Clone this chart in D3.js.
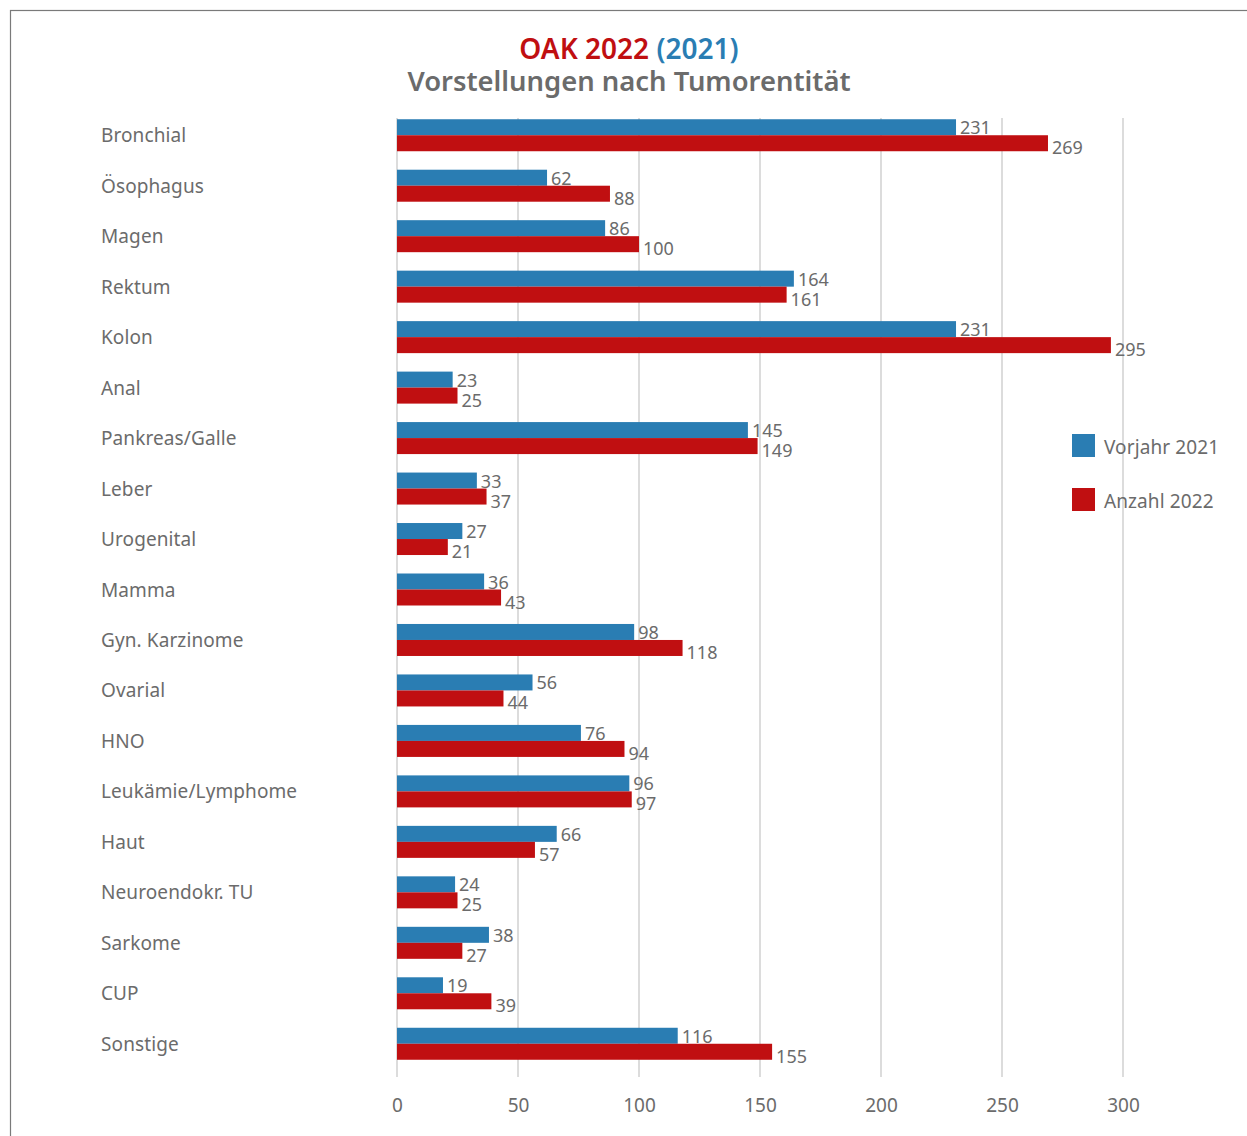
<!DOCTYPE html>
<html>
<head>
<meta charset="utf-8">
<script src="https://cdn.jsdelivr.net/npm/d3@7"></script>
<style>
  body { margin: 0; background: #fff; }
  svg text { font-family: "Noto Sans", sans-serif; }
</style>
</head>
<body>
<div id="chart"></div>
<script>
var categories = ["Bronchial", "Ösophagus", "Magen", "Rektum", "Kolon", "Anal",
    "Pankreas/Galle", "Leber", "Urogenital", "Mamma", "Gyn. Karzinome", "Ovarial",
    "HNO", "Leukämie/Lymphome", "Haut", "Neuroendokr. TU", "Sarkome", "CUP", "Sonstige"];
var vorjahr2021 = [231, 62, 86, 164, 231, 23, 145, 33, 27, 36, 98, 56, 76, 96, 66, 24, 38, 19, 116];
var anzahl2022 = [269, 88, 100, 161, 295, 25, 149, 37, 21, 43, 118, 44, 94, 97, 57, 25, 27, 39, 155];
var xTicks = [0, 50, 100, 150, 200, 250, 300];
var seriesNames = ["Vorjahr 2021", "Anzahl 2022"];

var width = 1247, height = 1136;
var blue = "#2a7db3", red = "#c00f11", grey = "#6b6b6b";

var svg = d3.select("#chart").append("svg")
    .attr("width", width)
    .attr("height", height);

// frame
svg.append("rect")
    .attr("x", 10.5).attr("y", 10.5)
    .attr("width", width).attr("height", height)
    .attr("fill", "none").attr("stroke", "#7a7a7a").attr("stroke-width", 1.2);

// title
var title = svg.append("text")
    .attr("x", 629).attr("y", 59)
    .attr("text-anchor", "middle")
    .attr("font-size", 28).attr("font-weight", 600);
title.append("tspan").attr("fill", red).text("OAK 2022 ");
title.append("tspan").attr("fill", blue).text("(2021)");

svg.append("text")
    .attr("x", 629).attr("y", 91)
    .attr("text-anchor", "middle")
    .attr("font-size", 27.4).attr("font-weight", 600)
    .attr("fill", grey)
    .text("Vorstellungen nach Tumorentität");

var x = d3.scaleLinear().domain([0, 300]).range([397, 1123]);
var y = d3.scaleBand().domain(categories).range([110, 1069]);
var barH = 16;

// grid
svg.append("g").selectAll("line")
    .data(xTicks)
    .join("line")
    .attr("x1", function(d) { return x(d); })
    .attr("x2", function(d) { return x(d); })
    .attr("y1", 118).attr("y2", 1077)
    .attr("stroke", "#d0d0d0").attr("stroke-width", 1.5);

// x axis labels
var xAxis = d3.axisBottom(x).tickValues(xTicks).tickSize(0).tickPadding(0);
var xAxisG = svg.append("g")
    .attr("transform", "translate(0,1098)")
    .call(xAxis);
xAxisG.select(".domain").remove();
xAxisG.selectAll("text")
    .attr("font-size", 19).attr("fill", grey)
    .attr("font-family", "Noto Sans, sans-serif");

// category labels
svg.append("g").selectAll("text")
    .data(categories)
    .join("text")
    .attr("x", 101)
    .attr("y", function(d) { return y(d) + y.bandwidth() / 2 + 7; })
    .attr("font-size", 19).attr("fill", grey)
    .attr("letter-spacing", 0.1)
    .text(function(d) { return d; });

var rows = categories.map(function(c, i) {
    return { cat: c, v21: vorjahr2021[i], v22: anzahl2022[i] };
});

function yMid(d) { return y(d.cat) + y.bandwidth() / 2; }

// blue bars
svg.append("g").selectAll("rect")
    .data(rows)
    .join("rect")
    .attr("x", x(0))
    .attr("y", function(d) { return yMid(d) - barH; })
    .attr("width", function(d) { return x(d.v21) - x(0); })
    .attr("height", barH)
    .attr("fill", blue);

// red bars
svg.append("g").selectAll("rect")
    .data(rows)
    .join("rect")
    .attr("x", x(0))
    .attr("y", function(d) { return yMid(d); })
    .attr("width", function(d) { return x(d.v22) - x(0); })
    .attr("height", barH)
    .attr("fill", red);

// value labels
svg.append("g").selectAll("text")
    .data(rows)
    .join("text")
    .attr("x", function(d) { return x(d.v21) + 4; })
    .attr("y", function(d) { return yMid(d) - 1; })
    .attr("font-size", 18).attr("fill", grey)
    .text(function(d) { return d.v21; });

svg.append("g").selectAll("text")
    .data(rows)
    .join("text")
    .attr("x", function(d) { return x(d.v22) + 4; })
    .attr("y", function(d) { return yMid(d) + barH + 3; })
    .attr("font-size", 18).attr("fill", grey)
    .text(function(d) { return d.v22; });

// legend
var legend = svg.append("g").attr("transform", "translate(1072,434)");
var legendColors = [blue, red];
var li = legend.selectAll("g")
    .data(seriesNames)
    .join("g")
    .attr("transform", function(d, i) { return "translate(0," + (i * 54) + ")"; });
li.append("rect")
    .attr("width", 23).attr("height", 23)
    .attr("fill", function(d, i) { return legendColors[i]; });
li.append("text")
    .attr("x", 32).attr("y", 20)
    .attr("font-size", 19).attr("fill", grey)
    .attr("letter-spacing", 0.1)
    .text(function(d) { return d; });
</script>
</body>
</html>
